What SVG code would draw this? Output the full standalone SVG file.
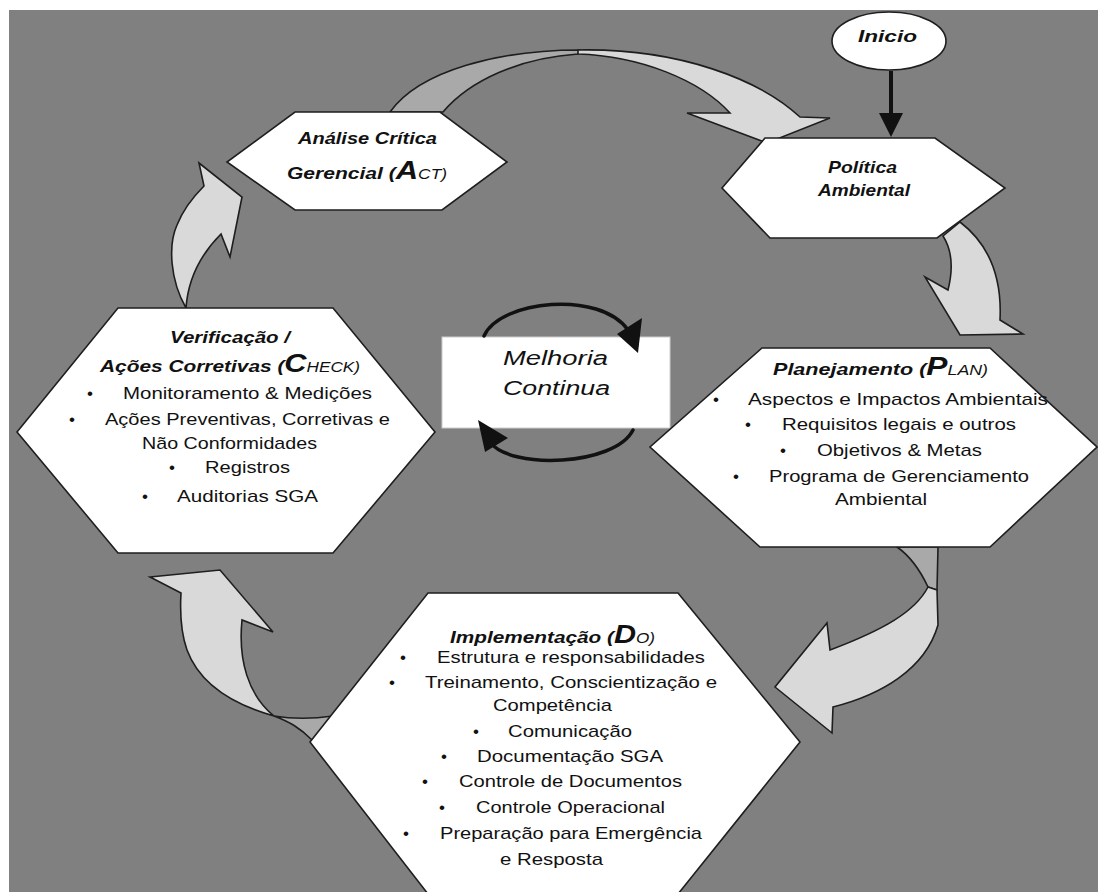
<svg xmlns="http://www.w3.org/2000/svg" width="1098" height="892" viewBox="0 0 1098 892">
<style>
.hex{fill:#ffffff;stroke:#1e1e1e;stroke-width:1.6;stroke-linejoin:miter}
.arr{fill:#d9d9d9;stroke:#1e1e1e;stroke-width:1.6;stroke-linejoin:miter}
.arrd{fill:#a9a9a9;stroke:#1e1e1e;stroke-width:1.6}
.t{font-family:"Liberation Sans",Arial,sans-serif;fill:#111111}
.ti{font-weight:bold;font-style:italic;font-size:17px}
.it{font-size:17px}
.bu{font-size:17px;text-anchor:middle}
.loop{fill:none;stroke:#111111;stroke-width:3.5;stroke-linecap:round}
</style>
<rect x="0" y="0" width="1098" height="892" fill="#ffffff"/>
<rect x="9" y="10" width="1089" height="882" fill="#808080"/>

<g id="connectors">
  <!-- ACT -> Politica (top arc) -->
  <path class="arrd" d="M 390,112 C 420,70 500,50 580,50 L 578,54 C 520,58 470,80 443,112 Z"/>
  <path class="arr" d="M 578,50 C 680,48 760,80 800,117 L 830,118 L 767,143 L 687,113 L 730,113 C 700,80 640,56 578,54 Z"/>
  <!-- Politica -> Plan -->
  <path class="arr" d="M 943,236 L 960,222 C 990,245 1002,280 1000,320 L 1023,334 L 960,335 L 925,277 L 948,290 C 953,270 952,250 943,236 Z"/>
  <!-- Plan -> Do -->
  <path class="arrd" d="M 897,547 L 938,547 L 937,590 L 928,587 C 920,570 910,556 897,547 Z"/>
  <path class="arr" d="M 830,650 L 827,623 L 775,687 L 832,733 L 833,707 C 880,695 925,670 938,625 L 937,590 L 928,587 C 915,612 883,630 830,650 Z"/>
  <!-- Do -> Check -->
  <path class="arrd" d="M 274,716 C 290,722 300,728 312,740 L 333,716 C 312,719 292,719 274,716 Z"/>
  <path class="arr" d="M 150,577 L 220,570 L 273,632 L 242,620 C 238,660 248,695 274,716 C 235,705 200,685 187,650 C 180,630 180,610 181,593 Z"/>
  <!-- Check -> ACT -->
  <path class="arr" d="M 199,163 L 242,197 L 230,257 L 221,234 C 200,255 188,280 186,308 C 170,280 168,245 177,225 C 185,205 198,192 204,186 Z"/>
  <!-- Inicio -> Politica -->
  <line x1="891" y1="71" x2="891" y2="116" stroke="#111111" stroke-width="4"/>
  <polygon points="879,113 903,113 891,137" fill="#111111"/>
</g>

<g id="node-inicio">
  <ellipse cx="889" cy="41" rx="57" ry="29" class="hex"/>
  <text class="t ti" x="858" y="42" textLength="59" lengthAdjust="spacingAndGlyphs">Inicio</text>
</g>

<g id="node-act">
  <polygon class="hex" points="295,112 440,112 507,162 442,210 295,210 227,162"/>
  <text class="t ti" x="298" y="144" textLength="139" lengthAdjust="spacingAndGlyphs">Análise Crítica</text>
  <text class="t ti" x="287" y="179" textLength="160" lengthAdjust="spacingAndGlyphs">Gerencial (<tspan font-size="25">A</tspan><tspan font-size="14" font-weight="normal">CT)</tspan></text>
</g>

<g id="node-politica">
  <polygon class="hex" points="765,138 935,138 1005,188 937,238 770,238 722,188"/>
  <text class="t ti" x="828" y="173" textLength="69" lengthAdjust="spacingAndGlyphs">Política</text>
  <text class="t ti" x="818" y="196" textLength="92" lengthAdjust="spacingAndGlyphs">Ambiental</text>
</g>

<g id="node-check">
  <polygon class="hex" points="118,308 333,308 435,432 333,553 118,553 17,432"/>
  <text class="t ti" x="170" y="343" textLength="120" lengthAdjust="spacingAndGlyphs">Verificação /</text>
  <text class="t ti" x="100" y="372" textLength="260" lengthAdjust="spacingAndGlyphs">Ações Corretivas (<tspan font-size="25">C</tspan><tspan font-size="14" font-weight="normal">HECK)</tspan></text>
  <text class="t bu" x="90" y="399">•</text>
  <text class="t it" x="123" y="399" textLength="249" lengthAdjust="spacingAndGlyphs">Monitoramento &amp; Medições</text>
  <text class="t bu" x="72" y="425">•</text>
  <text class="t it" x="105" y="425" textLength="285" lengthAdjust="spacingAndGlyphs">Ações Preventivas, Corretivas e</text>
  <text class="t it" x="142" y="449" textLength="175" lengthAdjust="spacingAndGlyphs">Não Conformidades</text>
  <text class="t bu" x="172" y="473">•</text>
  <text class="t it" x="205" y="473" textLength="85" lengthAdjust="spacingAndGlyphs">Registros</text>
  <text class="t bu" x="145" y="502">•</text>
  <text class="t it" x="177" y="502" textLength="141" lengthAdjust="spacingAndGlyphs">Auditorias SGA</text>
</g>

<g id="node-melhoria">
  <rect x="442" y="337" width="228" height="91" fill="#ffffff" stroke="#cccccc" stroke-width="1"/>
  <path class="loop" d="M 484,336 C 500,300 600,290 628,330"/>
  <polygon points="617,334 642,318 638,353" fill="#111111"/>
  <path class="loop" d="M 633,430 C 615,466 510,470 490,442"/>
  <polygon points="478,420 485,452 508,438" fill="#111111"/>
  <text class="t" font-style="italic" font-size="20" x="503" y="365" textLength="105" lengthAdjust="spacingAndGlyphs">Melhoria</text>
  <text class="t" font-style="italic" font-size="20" x="503" y="395" textLength="107" lengthAdjust="spacingAndGlyphs">Continua</text>
</g>

<g id="node-plan">
  <polygon class="hex" points="762,348 990,348 1097,447 990,547 760,547 650,447"/>
  <text class="t ti" x="773" y="375" textLength="215" lengthAdjust="spacingAndGlyphs">Planejamento (<tspan font-size="25">P</tspan><tspan font-size="14" font-weight="normal">LAN)</tspan></text>
  <text class="t bu" x="716" y="405">•</text>
  <text class="t it" x="748" y="405" textLength="300" lengthAdjust="spacingAndGlyphs">Aspectos e Impactos Ambientais</text>
  <text class="t bu" x="748" y="430">•</text>
  <text class="t it" x="782" y="430" textLength="234" lengthAdjust="spacingAndGlyphs">Requisitos legais e outros</text>
  <text class="t bu" x="783" y="456">•</text>
  <text class="t it" x="817" y="456" textLength="165" lengthAdjust="spacingAndGlyphs">Objetivos &amp; Metas</text>
  <text class="t bu" x="736" y="482">•</text>
  <text class="t it" x="769" y="482" textLength="260" lengthAdjust="spacingAndGlyphs">Programa de Gerenciamento</text>
  <text class="t it" x="835" y="505" textLength="92" lengthAdjust="spacingAndGlyphs">Ambiental</text>
</g>

<g id="node-do">
  <polygon class="hex" points="428,593 678,593 800,742 678,894 428,894 310,742"/>
  <text class="t ti" x="450" y="643" textLength="205" lengthAdjust="spacingAndGlyphs">Implementação (<tspan font-size="25">D</tspan><tspan font-size="14" font-weight="normal">O)</tspan></text>
  <text class="t bu" x="403" y="663">•</text>
  <text class="t it" x="437" y="663" textLength="268" lengthAdjust="spacingAndGlyphs">Estrutura e responsabilidades</text>
  <text class="t bu" x="392" y="688">•</text>
  <text class="t it" x="425" y="688" textLength="292" lengthAdjust="spacingAndGlyphs">Treinamento, Conscientização e</text>
  <text class="t it" x="493" y="711" textLength="119" lengthAdjust="spacingAndGlyphs">Competência</text>
  <text class="t bu" x="476" y="737">•</text>
  <text class="t it" x="508" y="737" textLength="124" lengthAdjust="spacingAndGlyphs">Comunicação</text>
  <text class="t bu" x="444" y="762">•</text>
  <text class="t it" x="477" y="762" textLength="186" lengthAdjust="spacingAndGlyphs">Documentação SGA</text>
  <text class="t bu" x="425" y="787">•</text>
  <text class="t it" x="459" y="787" textLength="223" lengthAdjust="spacingAndGlyphs">Controle de Documentos</text>
  <text class="t bu" x="442" y="813">•</text>
  <text class="t it" x="476" y="813" textLength="189" lengthAdjust="spacingAndGlyphs">Controle Operacional</text>
  <text class="t bu" x="406" y="839">•</text>
  <text class="t it" x="440" y="839" textLength="262" lengthAdjust="spacingAndGlyphs">Preparação para Emergência</text>
  <text class="t it" x="500" y="865" textLength="103" lengthAdjust="spacingAndGlyphs">e Resposta</text>
</g>
</svg>
